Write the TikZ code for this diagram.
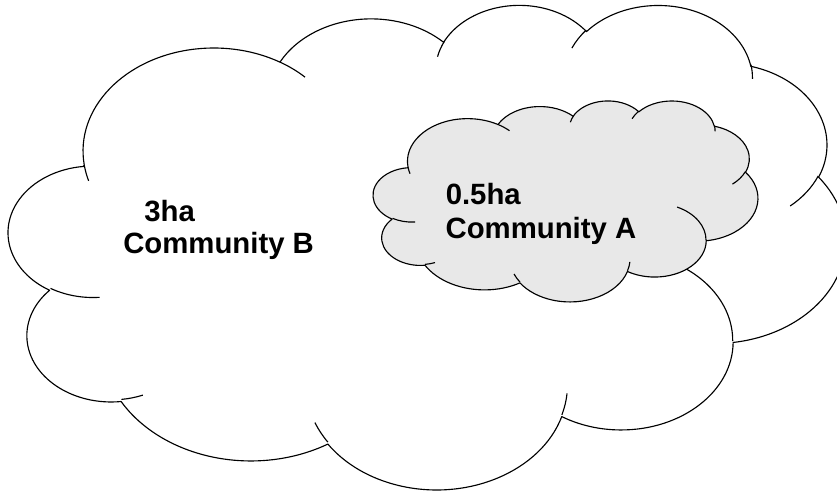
\documentclass[tikz,border=0pt]{standalone}
\usepackage{fontspec}
\setmainfont{Liberation Sans}
\definecolor{cloudgray}{RGB}{232,232,232}
\tikzset{
  carc/.code args={#1/#2/#3/#4}{%
    \pgfmathsetmacro\cloudtA{atan2((#1)*sin(#3),(#2)*cos(#3))}%
    \pgfmathsetmacro\cloudtB{atan2((#1)*sin((#3)+(#4)),(#2)*cos((#3)+(#4)))}%
    \pgfmathsetmacro\cloudtD{mod(\cloudtB-\cloudtA+720,360)}%
    \edef\cloudtmp{\noexpand\tikzset{insert path={arc[start angle=\cloudtA, delta angle=\cloudtD, x radius=#1, y radius=#2]}}}%
    \cloudtmp
  },
  cloud main/.style={insert path={(39,143.7)
    [carc=67.53/91.90/-190.4875/123.7805]
    [carc=53.33/72.67/-144.1024/89.9452]
    [carc=43.65/59.45/-145.8079/99.7230]
    [carc=48.57/65.95/-130.9861/117.2417]
    [carc=53.33/72.73/-78.7089/109.0269]
    [carc=67.75/92.20/-46.2673/130.2690]
    [carc=57.85/78.67/0.6250/114.0333]
    [carc=67.52/92.15/22.4516/115.1726]
    [carc=77.20/105.43/66.2426/75.7110]
    [carc=43.60/59.18/-274.9421/146.7356]
    [carc=43.45/59.45/-246.8285/152.5189] -- cycle}},
  cloud tails/.style={insert path={
    (46.93,261.77) [carc=43.45/59.45/86.7420/26.4295]
    (69.28,348.99) [carc=43.60/59.18/73.6105/11.4475]
    (164.78,390.90) [carc=67.52/92.15/137.6242/14.0811]
    (288.27,347.51) [carc=67.52/92.15/6.4533/15.9984]
    (341.29,229.54) [carc=57.85/78.67/-70.2924/70.9174]
    (417.98,153.54) [carc=53.33/72.73/30.3180/27.7515]
    (383.24,54.26) [carc=48.57/65.95/-13.7443/14.8589]
    (290.78,39.52) [carc=48.57/65.95/-149.1815/18.1954]
    (221.41,47.20) [carc=43.65/59.45/-163.4943/17.6864]
    (140.00,51.92) [carc=67.53/91.90/-66.7070/12.3194]
    (41.27,157.89) [carc=67.53/91.90/157.6544/11.8582]}},
  cloudline/.style={draw=black, line width=0.85pt, line join=round},
  lbl/.style={anchor=base west, inner sep=0pt, font=\fontsize{22}{26}\selectfont\bfseries, text=black}
}
\begin{document}
\begin{tikzpicture}[x=0.75pt,y=-0.75pt]
\useasboundingbox (0,0) rectangle (837,491);
\fill[white] (0,0) rectangle (837,491);
\clip (0,0) rectangle (837,491);
% big cloud (Community B)
\begin{scope}[shift={(8.7,3.8)}, x=1.452604pt, y=-0.840972pt]
  \path[cloudline, fill=white] [cloud main];
  \path[cloudline] [cloud tails];
\end{scope}
% small cloud (Community A)
\begin{scope}[shift={(373.3,100.3)}, x=0.667535pt, y=-0.348785pt]
  \path[cloudline, fill=cloudgray] [cloud main];
  \path[cloudline] [cloud tails];
\end{scope}
\node[lbl] (bha) at (144,221.7) {3ha};
\node[lbl] (bname) at (123,253.3) {Community B};
\node[lbl] (aha) at (445.5,204.3) {0.5ha};
\node[lbl] (aname) at (445.3,238.3) {Community A};
\end{tikzpicture}
\end{document}
